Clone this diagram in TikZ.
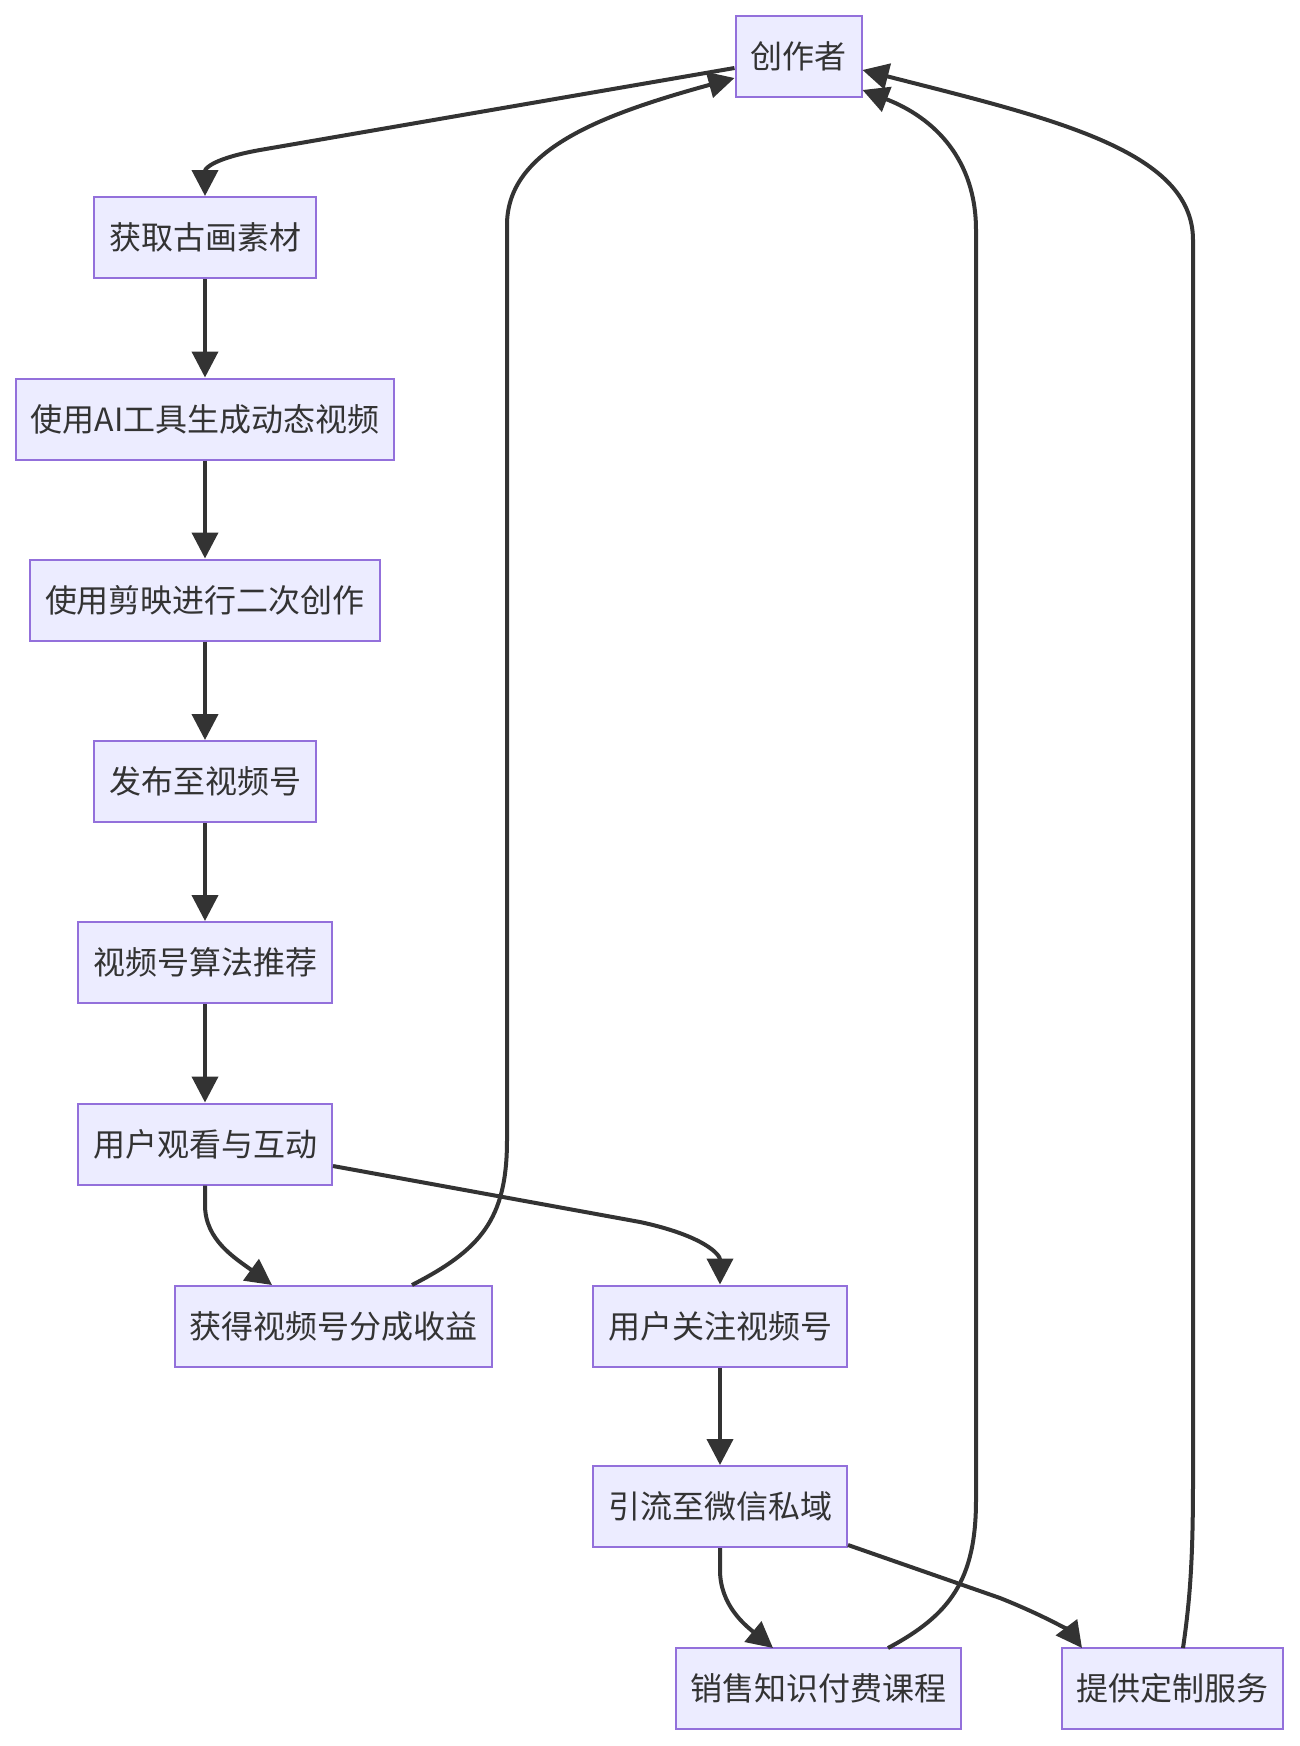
\documentclass[tikz,border=0pt]{standalone}
\usepackage{fontspec}
\setmainfont{Noto Sans CJK SC}
\usetikzlibrary{arrows.meta}
\definecolor{boxfill}{HTML}{ECECFF}
\definecolor{boxline}{HTML}{9370DB}
\definecolor{ink}{HTML}{333333}
\begin{document}
\begin{tikzpicture}[x=0.5pt,y=-0.5pt,
  box/.style={draw=boxline,fill=boxfill,line width=1pt,minimum height=40.5pt,inner sep=0pt,text=ink,font=\fontsize{16pt}{18pt}\selectfont},
  link/.style={draw=ink,line width=2pt,-{Triangle[length=13pt,width=13pt]}}]
\useasboundingbox (0,0) rectangle (1300,1746);
\node[box,minimum width=63pt] (c) at (798.5,56.5) {创作者};
\node[box,minimum width=111pt] (n1) at (205,237.5) {获取古画素材};
\node[box,minimum width=189pt] (n2) at (205,419) {使用AI工具生成动态视频};
\node[box,minimum width=175pt] (n3) at (205,600) {使用剪映进行二次创作};
\node[box,minimum width=111pt] (n4) at (205,781.5) {发布至视频号};
\node[box,minimum width=127pt] (n5) at (205,962.5) {视频号算法推荐};
\node[box,minimum width=127pt] (n6) at (205,1144) {用户观看与互动};
\node[box,minimum width=158.5pt] (n7) at (333.5,1326) {获得视频号分成收益};
\node[box,minimum width=127pt] (n8) at (720,1326) {用户关注视频号};
\node[box,minimum width=127pt] (n9) at (720,1506.5) {引流至微信私域};
\node[box,minimum width=142.5pt] (n10) at (818.5,1688) {销售知识付费课程};
\node[box,minimum width=110.5pt] (n11) at (1172.5,1688) {提供定制服务};
% creator -> first
\coordinate (c1) at (c.west |- 0,68);
\draw[link] (c1) -- (260,150) .. controls (215,158) and (205,168) .. (n1.north);
% verticals
\draw[link] (n1) -- (n2);
\draw[link] (n2) -- (n3);
\draw[link] (n3) -- (n4);
\draw[link] (n4) -- (n5);
\draw[link] (n5) -- (n6);
% watch -> revenue
\coordinate (a6) at (n6.south);
\coordinate (a7) at (272,1285);
\draw[link] (a6) -- (205,1205) .. controls (205,1240) and (235,1258) .. (a7);
% watch -> follow
\coordinate (b6) at (n6.east |- 0,1166);
\draw[link] (b6) -- (640,1222) .. controls (705,1236) and (720,1255) .. (n8.north);
% follow -> traffic
\draw[link] (n8) -- (n9);
% traffic -> sell
\coordinate (t10) at (773,1648);
\draw[link] (n9.south) -- (720,1570) .. controls (720,1605) and (745,1625) .. (t10);
% traffic -> custom
\coordinate (s9) at (n9.east |- 0,1545);
\coordinate (t11) at (1082,1648);
\draw[link] (s9) -- (1000,1598) .. controls (1050,1618) and (1070,1632) .. (t11);
% revenue -> creator
\coordinate (s7) at (412,1285);
\coordinate (e7) at (c.west |- 0,78);
\draw[link] (s7) .. controls (480,1250) and (507,1220) .. (507,1140) -- (507,225) .. controls (507,150) and (600,115) .. (e7);
% sell -> creator
\coordinate (s10) at (888,1648);
\coordinate (e10) at (c.east |- 0,90);
\draw[link] (s10) .. controls (950,1615) and (976,1580) .. (976,1500) -- (976,230) .. controls (976,160) and (935,118) .. (e10);
% custom -> creator
\coordinate (s11) at (1183,1648);
\coordinate (e11) at (c.east |- 0,70);
\draw[link] (s11) .. controls (1190,1600) and (1193,1560) .. (1193,1480) -- (1193,240) .. controls (1193,150) and (1050,118) .. (e11);
\end{tikzpicture}
\end{document}
